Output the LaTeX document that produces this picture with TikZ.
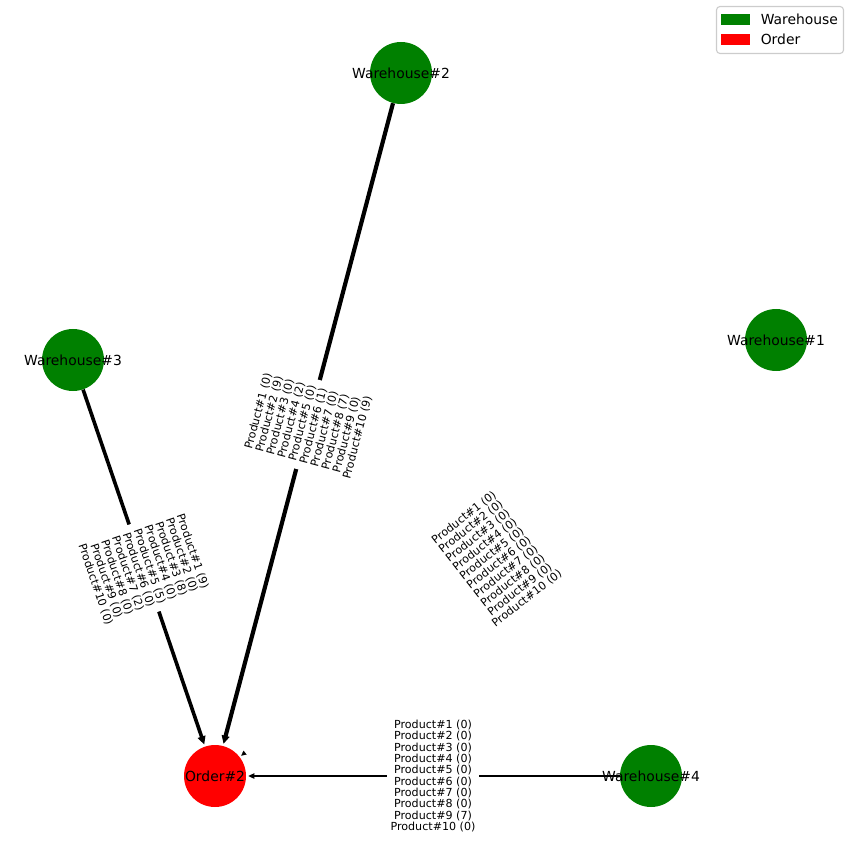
\documentclass[tikz,border=0pt]{standalone}
\usepackage{fontspec}
\setmainfont{DejaVu Sans}
\usetikzlibrary{arrows.meta,calc}
\definecolor{mplgreen}{HTML}{008000}
\definecolor{mplred}{HTML}{FF0000}
\definecolor{legedge}{HTML}{CCCCCC}
\tikzset{
  vtx/.style={circle, minimum size=44.64pt, inner sep=0pt, draw=none},
  whnode/.style={vtx, fill=mplgreen},
  ordnode/.style={vtx, fill=mplred},
  nlabel/.style={font=\fontsize{10}{12}\selectfont, text=black, inner sep=0pt},
  thickedge/.style={line width=3pt, -{Triangle[length=6pt,width=5.5pt]}, shorten >=1.4pt},
  midedge/.style={line width=2.6pt, -{Triangle[length=6pt,width=5.5pt]}, shorten >=1.4pt},
  thinedge/.style={line width=0.75pt, -{Triangle[length=4.5pt,width=4pt]}, shorten >=1.4pt},
  nulledge/.style={line width=0.2pt, -{Triangle[length=3.5pt,width=3.5pt]}, shorten >=1.4pt},
  elabel/.style={fill=white, inner sep=2.5pt, align=center, font=\fontsize{8}{8.2}\selectfont},
  legbox/.style={draw=legedge, fill=white, rounded corners=2.5pt, line width=0.8pt},
  legtext/.style={anchor=west, font=\fontsize{10}{12}\selectfont, inner sep=0pt}
}
\begin{document}
\begin{tikzpicture}[x=0.72pt,y=-0.72pt]
\useasboundingbox (0,0) rectangle (850,850);

% nodes
\node[whnode] (w1) at (776,340) {};
\node[whnode] (w2) at (401,73) {};
\node[whnode] (w3) at (73,360) {};
\node[whnode] (w4) at (651,776) {};
\node[ordnode] (o2) at (215,776) {};

% edges
\draw[thickedge] (w2) -- (o2);
\draw[midedge] (w3) -- (o2);
\draw[thinedge] (w4) -- (o2);
\coordinate (w1end) at ($(o2)!27pt!(w1)$);
\draw[nulledge] (w1end) -- (o2);

% node labels
\node[nlabel] (w1t) at (w1) {Warehouse\#1};
\node[nlabel] (w2t) at (w2) {Warehouse\#2};
\node[nlabel] (w3t) at (w3) {Warehouse\#3};
\node[nlabel] (w4t) at (w4) {Warehouse\#4};
\node[nlabel] (o2t) at (o2) {Order\#2};

% edge labels
\node[elabel, rotate=75.18] (l2) at ($(w2)!0.5!(o2)$)
  {Product\#1 (0)\\Product\#2 (9)\\Product\#3 (0)\\Product\#4 (2)\\Product\#5 (0)\\Product\#6 (1)\\Product\#7 (0)\\Product\#8 (7)\\Product\#9 (0)\\Product\#10 (9)};
\node[elabel, rotate=-71.15] (l3) at ($(w3)!0.5!(o2)$)
  {Product\#1 (9)\\Product\#2 (0)\\Product\#3 (8)\\Product\#4 (0)\\Product\#5 (5)\\Product\#6 (0)\\Product\#7 (2)\\Product\#8 (0)\\Product\#9 (0)\\Product\#10 (0)};
\node[elabel, rotate=37.85] (l1) at ($(w1)!0.5!(o2)$)
  {Product\#1 (0)\\Product\#2 (0)\\Product\#3 (0)\\Product\#4 (0)\\Product\#5 (0)\\Product\#6 (0)\\Product\#7 (0)\\Product\#8 (0)\\Product\#9 (0)\\Product\#10 (0)};
\node[elabel] (l4) at ($(w4)!0.5!(o2)$)
  {Product\#1 (0)\\Product\#2 (0)\\Product\#3 (0)\\Product\#4 (0)\\Product\#5 (0)\\Product\#6 (0)\\Product\#7 (0)\\Product\#8 (0)\\Product\#9 (7)\\Product\#10 (0)};

% legend
\draw[legbox] (716.5,6.5) rectangle (843.5,53.5);
\fill[mplgreen] (721,14) rectangle (750,25);
\fill[mplred] (721,34.3) rectangle (750,45);
\node[legtext] (legw) at (760.5,19.5) {Warehouse};
\node[legtext] (lego) at (760.5,39.7) {Order};
\end{tikzpicture}
\end{document}
